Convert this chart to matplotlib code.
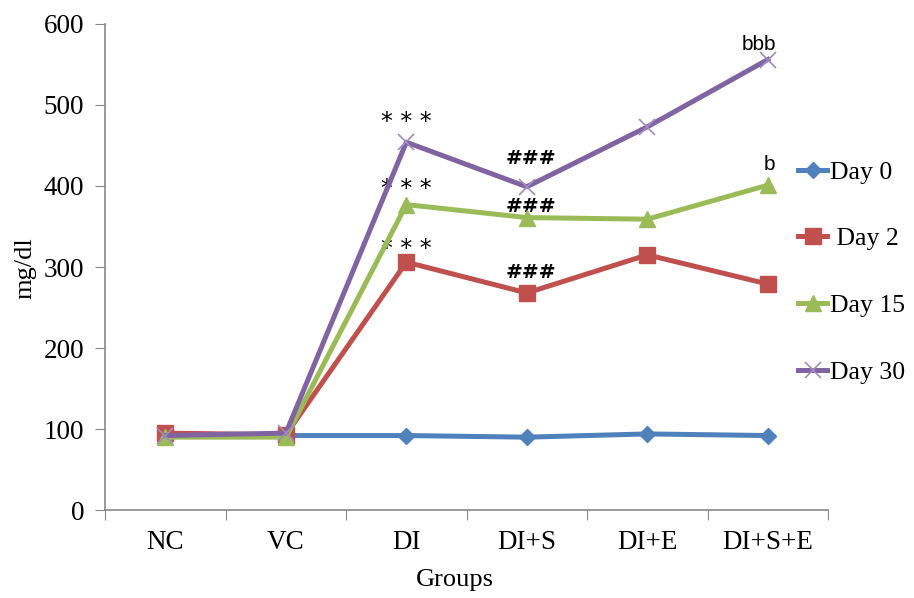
import numpy as np
import matplotlib.pyplot as plt

groups = ['NC', 'VC', 'DI', 'DI+S', 'DI+E', 'DI+S+E']
day0 = [92, 92, 92, 90, 94, 92]
day2 = [95, 93, 306, 268, 315, 279]
day15 = [90, 90, 377, 361, 359, 401]
day30 = [92, 95, 454, 399, 473, 556]

# significance marks: (group index, y value of text, text)
stars = [(2, 479, '* * *'), (2, 396, '* * *'), (2, 322, '* * *')]
hashes = [(3, 434, '###'), (3, 375, '###'), (3, 293, '###')]
letters = [(4.93, 575, 'bbb'), (5.01, 426, 'b')]

serif = ['Liberation Serif', 'DejaVu Serif']

fig = plt.figure(figsize=(9.14, 5.98), dpi=100)
ax = fig.add_axes([0.115, 0.147, 0.791, 0.813])

x = np.arange(len(groups))
ax.plot(x, day0, color='#4F81BD', lw=3.6, marker='D', ms=8, label='Day 0', zorder=3)
ax.plot(x, day2, color='#C0504D', lw=3.6, marker='s', ms=11, label=' Day 2', zorder=4)
ax.plot(x, day15, color='#9BBB59', lw=3.6, marker='^', ms=11, label='Day 15', zorder=5)
ax.plot(x, day30, color='#8064A2', lw=3.6, marker='x', ms=11, mew=1.2,
        mec='#A08CC0', label='Day 30', zorder=6)

for i, y, t in stars:
    ax.text(i, y, t, ha='center', va='center', fontsize=17, family='DejaVu Sans')
for i, y, t in hashes:
    ax.text(i + 0.03, y, t, ha='center', va='center', fontsize=14.5,
            family='DejaVu Sans', fontweight='bold')
for i, y, t in letters:
    ax.text(i, y, t, ha='center', va='center', fontsize=15, family='Liberation Sans')

ax.set_xlim(-0.5, 5.5)
ax.set_ylim(0, 600)
ax.set_yticks(range(0, 601, 100))
ax.set_xticks(np.arange(-0.5, 5.6, 1))
ax.set_xticklabels([])
ax.set_xticks(x, minor=True)
ax.set_xticklabels(groups, minor=True)
ax.tick_params(axis='x', which='major', length=7, direction='out', color='#888888')
ax.tick_params(axis='x', which='minor', length=0, pad=14)
ax.tick_params(axis='y', length=7, color='#888888', pad=8)
for lab in ax.get_xticklabels(minor=True) + ax.get_yticklabels():
    lab.set_family(serif)
    lab.set_fontsize(19.5)

for s in ['top', 'right']:
    ax.spines[s].set_visible(False)
for s in ['left', 'bottom']:
    ax.spines[s].set_color('#888888')
    ax.spines[s].set_linewidth(1.2)

fig.text(0.498, 0.030, 'Groups', family=serif, fontsize=19, ha='center', va='center')
fig.text(0.028, 0.552, 'mg/dl', family=serif, fontsize=19, rotation=90,
         ha='center', va='center')

fig.legend(loc='center left', bbox_to_anchor=(0.873, 0.545), frameon=False,
           prop={'family': serif, 'size': 18.5}, labelspacing=1.7,
           handlelength=1.15, handletextpad=0.1, borderpad=0, borderaxespad=0)

fig.savefig('out.png', dpi=100)
